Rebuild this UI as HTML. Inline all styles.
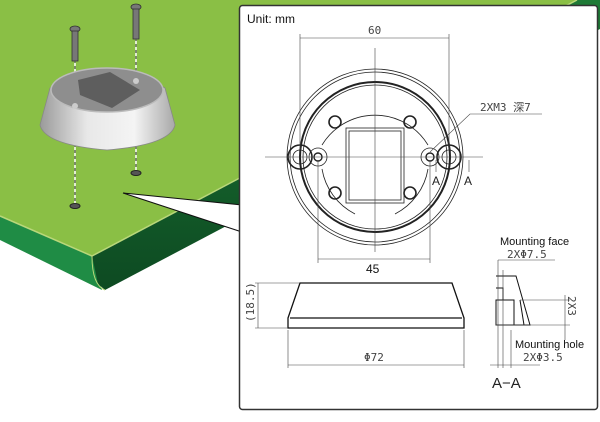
<!DOCTYPE html>
<html><head><meta charset="utf-8"><style>
html,body{margin:0;padding:0;background:#fff;width:600px;height:422px;overflow:hidden}
svg{display:block}
text{font-family:"Liberation Sans","Noto Sans CJK JP",sans-serif}
.m{font-family:"DejaVu Sans Mono","Noto Sans CJK JP",monospace;font-size:11px;fill:#444}
</style></head><body>
<svg width="600" height="422" viewBox="0 0 600 422" xmlns="http://www.w3.org/2000/svg">
<defs>
<linearGradient id="mg" x1="0" x2="1" y1="0" y2="0">
<stop offset="0" stop-color="#9a9a9a"/><stop offset="0.35" stop-color="#e8e8e8"/><stop offset="0.7" stop-color="#f4f4f4"/><stop offset="1" stop-color="#a8a8a8"/></linearGradient>
<linearGradient id="edge" x1="0" x2="0" y1="0" y2="1">
<stop offset="0" stop-color="#1e7a36"/><stop offset="1" stop-color="#0d4a22"/></linearGradient>
</defs>
<!-- board -->
<polygon points="0,0 577,0 92,256 0,216" fill="#8abf45"/>
<polygon points="0,216 92,256 102,290 0,240" fill="#1f8c45"/>
<polygon points="92,256 577,0 600,0 600,29 105,290 98,284" fill="url(#edge)"/>
<line x1="0" y1="216" x2="92" y2="256" stroke="#b9d77a" stroke-width="1.5"/>
<line x1="92" y1="256" x2="577" y2="0" stroke="#b9d77a" stroke-width="1.5"/>
<path d="M92,256 Q92,285 105,290" fill="none" stroke="#b9d77a" stroke-width="1"/>
<!-- callout wedge -->
<polygon points="123,193 242,205 242,232" fill="#fff" stroke="#111" stroke-width="1"/>
<!-- panel -->
<rect x="239.5" y="5.5" width="358" height="404" rx="3" fill="#fff" stroke="#333" stroke-width="1.5"/>
<!-- dashed lines -->
<line x1="75" y1="60" x2="75" y2="205" stroke="#fff" stroke-width="1.5"/>
<line x1="75" y1="60" x2="75" y2="205" stroke="#333" stroke-width="1" stroke-dasharray="3,3"/>
<line x1="136" y1="38" x2="136" y2="172" stroke="#fff" stroke-width="1.5"/>
<line x1="136" y1="38" x2="136" y2="172" stroke="#333" stroke-width="1" stroke-dasharray="3,3"/>
<!-- mount -->
<path d="M50,88 Q107,55 165,88 L175,125 Q170,145 107,150 Q45,145 40,125 Z" fill="url(#mg)" stroke="#888" stroke-width="0.8"/>
<ellipse cx="107" cy="90" rx="56" ry="22" fill="#8e8e8e"/>
<path d="M78,80 L110,72 L140,90 L112,108 L80,95 Z" fill="#5e5e5e"/>
<ellipse cx="107" cy="90" rx="56" ry="22" fill="none" stroke="#bbb" stroke-width="1.5"/>
<circle cx="75" cy="106" r="3" fill="#ccc"/><circle cx="136" cy="81" r="3" fill="#ccc"/>
<ellipse cx="75" cy="206" rx="5" ry="2.5" fill="#555" stroke="#222"/>
<ellipse cx="136" cy="173" rx="5" ry="2.5" fill="#555" stroke="#222"/>
<!-- screws -->
<g fill="#777" stroke="#333" stroke-width="0.8">
<ellipse cx="75" cy="29" rx="5" ry="3"/><rect x="72" y="31" width="6" height="30"/>
<ellipse cx="136" cy="7" rx="5" ry="3"/><rect x="133" y="9" width="6" height="30"/>
</g>
<text x="247" y="23" font-size="12" fill="#111">Unit: mm</text>
<!-- top view -->
<g fill="none" stroke="#222" stroke-width="0.8">
<circle cx="375" cy="157" r="88"/>
<circle cx="375" cy="157" r="85"/>
<circle cx="375" cy="157" r="75" stroke-width="2"/>
<circle cx="375" cy="157" r="72"/>
<path d="M322,145 A62,62 0 0 1 428,145 M322,169 A62,62 0 0 0 355,214 M428,169 A62,62 0 0 1 395,214"/>
<rect x="346" y="128" width="58" height="75"/>
<rect x="349" y="131" width="52" height="69"/>
<circle cx="335" cy="122" r="6" stroke-width="1.6"/><circle cx="410" cy="122" r="6" stroke-width="1.6"/>
<circle cx="335" cy="193" r="6" stroke-width="1.6"/><circle cx="410" cy="193" r="6" stroke-width="1.6"/>
<circle cx="300" cy="157" r="12" stroke-width="1.6"/><circle cx="300" cy="157" r="7"/>
<circle cx="449" cy="157" r="12" stroke-width="1.6"/><circle cx="449" cy="157" r="7"/>
<circle cx="318" cy="157" r="9"/><circle cx="318" cy="157" r="4" stroke-width="1.4"/>
<circle cx="430" cy="157" r="9"/><circle cx="430" cy="157" r="4" stroke-width="1.4"/>
</g>
<g stroke="#444" stroke-width="0.6" fill="none">
<line x1="265" y1="157" x2="483" y2="157"/>
<line x1="375" y1="48" x2="375" y2="252"/>
<line x1="300" y1="34" x2="300" y2="150"/><line x1="449" y1="34" x2="449" y2="150"/>
<line x1="300" y1="38" x2="449" y2="38"/>
<line x1="318" y1="160" x2="318" y2="263"/><line x1="430" y1="160" x2="430" y2="263"/>
<line x1="318" y1="259" x2="430" y2="259"/>
<polyline points="430,152 470,114 542,114"/>
<line x1="436" y1="160" x2="436" y2="172"/><line x1="469" y1="160" x2="469" y2="172"/>
</g>
<text x="368" y="34" class="m">60</text>
<text x="480" y="111" class="m">2XM3 深7</text>
<text x="432" y="185" font-size="12" fill="#222">A</text>
<text x="464" y="185" font-size="12" fill="#222">A</text>
<text x="366" y="273" font-size="12" fill="#111">45</text>
<!-- side view -->
<path d="M300,283 L452,283 L464,318 L464,328 L288,328 L288,318 Z" fill="#fff" stroke="#111" stroke-width="1.3"/>
<line x1="290" y1="318" x2="462" y2="318" stroke="#111" stroke-width="1.3"/>
<g stroke="#444" stroke-width="0.6">
<line x1="255" y1="283" x2="300" y2="283"/><line x1="255" y1="328" x2="288" y2="328"/>
<line x1="258" y1="283" x2="258" y2="328"/>
<line x1="288" y1="330" x2="288" y2="368"/><line x1="464" y1="330" x2="464" y2="368"/>
<line x1="288" y1="365" x2="464" y2="365"/>
</g>
<text class="m" transform="translate(254,322) rotate(-90)">(18.5)</text>
<text x="364" y="361" class="m">Φ72</text>
<!-- section A-A -->
<g fill="none" stroke="#111" stroke-width="1">
<path d="M496,276 L516,276 L530,325 L496,325"/>
<rect x="496" y="300" width="18" height="25"/>
<path d="M496,288 L503,288 L503,300"/>
<path d="M520,300 L524,325"/>
</g>
<g stroke="#444" stroke-width="0.6">
<line x1="498" y1="260" x2="498" y2="368"/><line x1="503" y1="270" x2="503" y2="368"/>
<line x1="511" y1="330" x2="511" y2="368"/>
<line x1="496" y1="325" x2="570" y2="325"/><line x1="520" y1="300" x2="570" y2="300"/>
<line x1="565" y1="295" x2="565" y2="340"/>
<line x1="498" y1="260" x2="555" y2="260"/>
<line x1="490" y1="365" x2="540" y2="365"/>
</g>
<text x="500" y="245" font-size="11" fill="#111">Mounting face</text>
<text x="507" y="258" class="m">2XΦ7.5</text>
<text class="m" transform="translate(568,296) rotate(90)">2X3</text>
<text x="515" y="348" font-size="11" fill="#111">Mounting hole</text>
<text x="523" y="361" class="m">2XΦ3.5</text>
<text x="492" y="388" font-size="15" fill="#222" font-family="DejaVu Sans Mono,monospace">A−A</text>
</svg>
</body></html>
